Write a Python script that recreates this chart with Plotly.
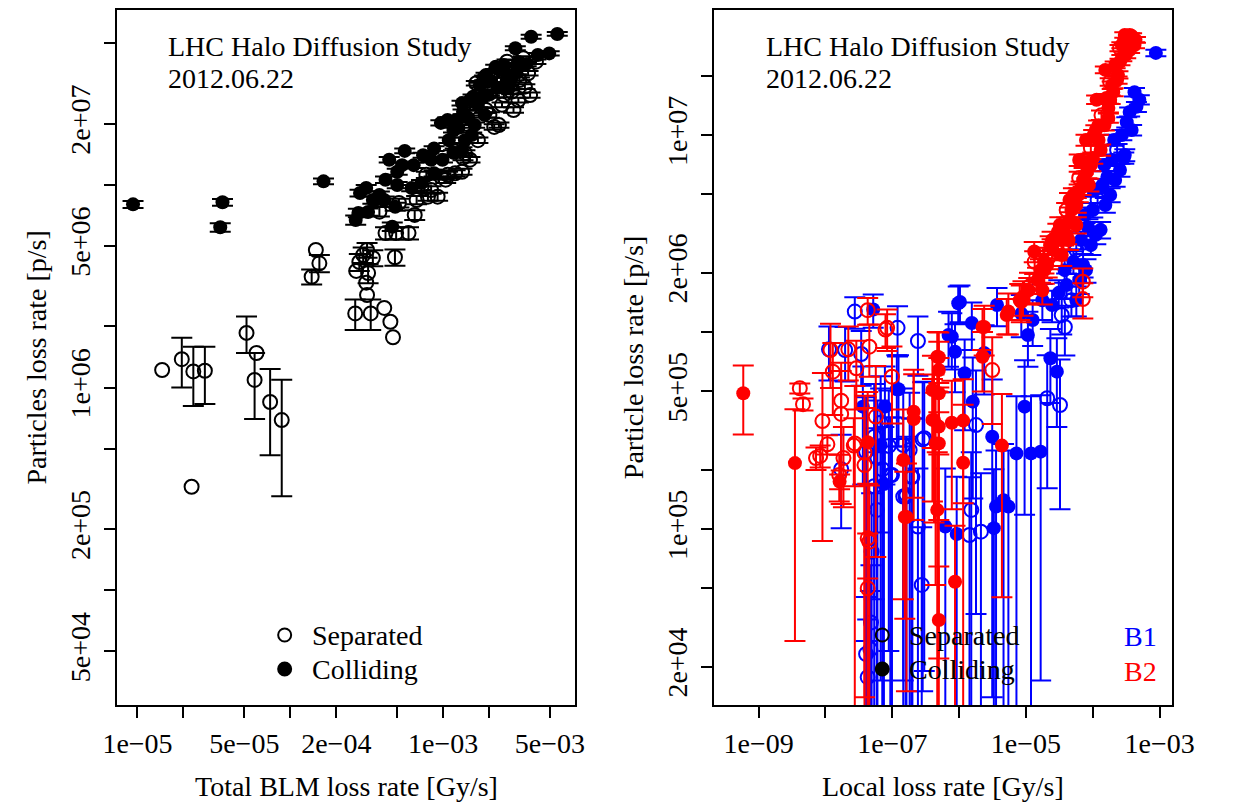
import plotly.graph_objects as go

W, H = 1239, 805

# ---------------- LEFT PANEL DATA (Total BLM loss rate vs particle loss rate) ----------------
sep_x = [1.45e-5, 1.95e-5, 2.32e-5, 2.76e-5, 2.26e-5, 5.17e-5, 6.01e-5, 5.84e-5, 7.38e-5, 8.79e-5,
         1.47e-4, 1.55e-4, 1.38e-4, 3.00e-4, 3.18e-4, 2.70e-4, 3.23e-4, 3.14e-4, 3.18e-4, 2.66e-4,
         3.36e-4, 4.12e-4, 4.52e-4, 4.70e-4, 4.84e-4, 4.20e-4, 4.93e-4, 5.94e-4, 3.83e-4, 5.14e-4,
         6.52e-4, 6.71e-4, 7.96e-4, 9.21e-4, 7.77e-4, 1.20e-3, 1.35e-3, 9.67e-4, 8.35e-4, 7.22e-4,
         1.04e-3, 3.47e-4, 2.83e-4,
         3.35e-3, 4.05e-3, 2.62e-3, 2.97e-3, 3.60e-3, 2.32e-3, 3.43e-3, 2.81e-3, 2.43e-3, 2.01e-3,
         1.65e-3, 2.32e-3, 2.16e-3, 1.91e-3, 1.39e-3, 1.20e-3, 1.33e-3, 1.07e-3, 3.11e-3, 1.50e-3,
         2.50e-3, 1.87e-3, 2.50e-3, 2.89e-3, 2.01e-3, 1.69e-3, 3.16e-3, 3.71e-3, 1.50e-3]
sep_y = [1.22e6, 1.38e6, 1.20e6, 1.21e6, 3.24e5, 1.86e6, 1.48e6, 1.09e6, 8.48e5, 6.91e5,
         4.77e6, 4.10e6, 3.52e6, 4.51e6, 4.77e6, 3.76e6, 3.67e6, 3.29e6, 2.86e6, 2.32e6,
         2.32e6, 2.47e6, 2.11e6, 1.77e6, 4.39e6, 5.78e6, 5.78e6, 5.78e6, 7.37e6, 8.13e6,
         7.10e6, 8.41e6, 8.74e6, 8.74e6, 1.12e7, 1.14e7, 1.36e7, 1.10e7, 9.43e6, 9.75e6,
         1.06e7, 4.36e6, 4.16e6,
         4.21e7, 4.05e7, 4.05e7, 3.77e7, 3.55e7, 3.48e7, 3.05e7, 2.88e7, 2.48e7, 2.83e7,
         3.17e7, 1.97e7, 1.93e7, 2.34e7, 1.43e7, 1.46e7, 1.16e7, 1.12e7, 2.62e7, 2.39e7,
         3.29e7, 3.37e7, 2.77e7, 2.34e7, 2.21e7, 1.66e7, 3.29e7, 2.77e7, 1.33e7]
sep_err = [0, 3.8e5, 3.9e5, 3.8e5, 0, 3.8e5, 0, 3.9e5, 3.85e5, 4.0e5,
           0, 4.0e5, 3.0e5, 4.0e5, 4.0e5, 0, 4.0e5, 0, 0, 4.0e5,
           4.0e5, 0, 0, 0, 4.0e5, 4.0e5, 4.0e5, 4.0e5, 4.0e5, 4.0e5,
           4.0e5, 4.0e5, 4.0e5, 4.0e5, 4.0e5, 4.0e5, 4.0e5, 4.0e5, 4.0e5, 4.0e5,
           4.0e5, 4.0e5, 4.0e5,
           1.0e6, 1.0e6, 1.0e6, 1.0e6, 9e5, 9e5, 8e5, 8e5, 7e5, 8e5,
           8e5, 6e5, 6e5, 7e5, 5e5, 5e5, 4e5, 4e5, 7e5, 7e5,
           9e5, 9e5, 7e5, 7e5, 7e5, 5e5, 9e5, 8e5, 4e5]

col_x = [9.35e-6, 3.60e-5, 3.48e-5, 1.65e-4, 5.61e-4, 7.40e-4, 8.73e-4, 9.91e-4, 4.44e-4, 5.01e-4,
         4.20e-4, 3.14e-4, 2.86e-4, 3.83e-4, 4.12e-4, 2.79e-4, 2.68e-4, 4.86e-4, 6.23e-4, 9.67e-4,
         1.07e-3, 1.33e-3, 1.57e-3, 1.74e-3, 1.91e-3, 2.21e-3, 2.97e-3, 3.77e-3, 5.59e-3, 4.95e-3,
         1.17e-3, 1.35e-3, 1.81e-3, 2.32e-3, 2.81e-3, 1.17e-3, 7.22e-4, 8.73e-4, 4.65e-4, 1.22e-3,
         1.50e-3, 2.01e-3, 2.50e-3, 3.11e-3, 1.61e-3, 1.09e-3, 1.39e-3, 5.01e-4, 3.47e-4, 3.23e-4,
         5.39e-4, 1.87e-3, 2.69e-3,
         1.26e-3, 1.46e-3, 1.69e-3, 1.95e-3, 2.26e-3, 2.61e-3, 3.02e-3, 3.50e-3, 4.17e-3, 1.33e-3,
         1.54e-3, 8.35e-4, 6.42e-4]
col_y = [8.01e6, 8.20e6, 6.17e6, 1.04e7, 1.47e7, 1.40e7, 1.51e7, 1.33e7, 1.33e7, 1.16e7,
         1.06e7, 9.64e6, 9.11e6, 8.91e6, 8.41e6, 7.26e6, 6.70e6, 7.80e6, 9.64e6, 2.02e7,
         2.09e7, 2.53e7, 2.72e7, 3.11e7, 3.48e7, 3.82e7, 4.72e7, 5.38e7, 5.55e7, 4.45e7,
         1.86e7, 2.29e7, 2.72e7, 3.69e7, 3.35e7, 1.44e7, 1.02e7, 1.14e7, 6.21e6, 2.09e7,
         2.62e7, 3.29e7, 3.90e7, 4.03e7, 1.97e7, 1.66e7, 1.66e7, 9.98e6, 8.41e6, 7.34e6,
         1.25e7, 2.21e7, 3.00e7,
         1.91e7, 2.14e7, 2.48e7, 2.77e7, 3.00e7, 3.29e7, 3.60e7, 3.94e7, 4.37e7, 1.48e7,
         1.76e7, 1.33e7, 1.25e7]
col_err = [3.2e5, 3.2e5, 3.0e5, 3.5e5, 4e5, 4e5, 4e5, 4e5, 4e5, 4e5,
           4e5, 3.5e5, 3.5e5, 3.5e5, 3.5e5, 3.5e5, 3.5e5, 3.5e5, 3.5e5, 6e5,
           6e5, 7e5, 7e5, 8e5, 9e5, 9e5, 1.1e6, 1.2e6, 1.2e6, 1.1e6,
           5e5, 6e5, 7e5, 9e5, 8e5, 4e5, 3.5e5, 4e5, 3e5, 6e5,
           7e5, 8e5, 9e5, 1e6, 6e5, 5e5, 5e5, 3.5e5, 3.5e5, 3e5,
           4e5, 6e5, 8e5,
           6e5, 6e5, 7e5, 8e5, 8e5, 9e5, 9e5, 1e6, 1e6, 5e5,
           5e5, 4e5, 4e5]

# ---------------- RIGHT PANEL DATA (Local loss rate vs particle loss rate) ----------------
b1_sep_x = [2.75e-8, 1.20e-7, 1.13e-8, 1.97e-8, 3.43e-8, 1.72e-8, 4.06e-8, 5.37e-8, 6.70e-8, 6.00e-8,
            7.09e-8, 9.35e-8, 8.87e-8, 5.37e-8, 5.86e-8, 4.91e-8, 4.80e-8, 4.06e-8, 4.70e-8, 4.29e-8,
            1.46e-7, 2.42e-7, 2.85e-7, 1.58e-7, 2.42e-7, 2.76e-7, 1.52e-6, 1.43e-6, 2.12e-6, 1.79e-6,
            2.08e-5, 3.23e-5, 3.82e-5, 1.82e-7, 1.46e-7, 1.93e-7, 9.90e-8, 2.00e-7, 3.01e-7, 1.63e-7,
            4.79e-5, 3.43e-5, 5.67e-5, 1.18e-4, 2.31e-4]
b1_sep_y = [1.27e6, 1.05e6, 8.17e5, 8.10e5, 7.73e5, 2.01e5, 2.47e5, 2.94e5, 3.46e5, 2.29e5,
            2.01e5, 1.88e5, 2.64e5, 1.65e5, 1.25e5, 7.67e4, 3.35e4, 2.32e4, 2.45e4, 1.77e4,
            1.46e5, 9.00e5, 2.85e5, 1.46e5, 1.03e5, 5.20e4, 1.25e5, 9.32e4, 9.69e4, 3.37e5,
            4.61e5, 4.26e5, 1.06e6, 2.52e5, 2.67e5, 1.84e5, 1.88e5, 1.84e5, 2.89e5, 1.49e5,
            1.45e6, 1.22e6, 2.61e6, 4.68e6, 8.39e6]
b1_sep_err = [2.3e5, 3.0e5, 2.5e5, 2.5e5, 2.4e5, 1.0e5, 2.2e5, 2.5e5, 2.5e5, 2.2e5,
              2.0e5, 1.8e5, 2.4e5, 1.6e5, 1.2e5, 7.5e4, 3.2e4, 2.2e4, 2.4e4, 1.7e4,
              1.4e5, 3.0e5, 2.7e5, 1.4e5, 1.0e5, 5.0e4, 1.2e5, 9.0e4, 9.5e4, 3.0e5,
              3.0e5, 3.0e5, 3.0e5, 2.4e5, 2.5e5, 1.8e5, 1.8e5, 1.8e5, 2.7e5, 1.45e5,
              2.5e5, 2.5e5, 3e5, 4e5, 6e5]

b1_col_x = [5.19e-8, 3.63e-8, 7.76e-8, 6.70e-8, 7.50e-8, 1.24e-7, 9.70e-7, 3.69e-6, 1.55e-6, 7.78e-7,
            8.52e-6, 2.32e-5, 2.90e-5, 9.54e-6, 3.13e-6, 7.21e-6, 1.19e-5, 1.66e-5, 3.57e-6, 4.62e-6,
            5.46e-6, 3.31e-6, 9.20e-7, 6.22e-7, 8.69e-7, 1.21e-6, 1.60e-6, 2.37e-6, 6.95e-7, 1.03e-6,
            1.17e-7, 1.26e-5, 1.76e-5, 1.07e-5,
            3.10e-5, 4.06e-5, 3.79e-5, 5.13e-5, 6.69e-5, 8.46e-5, 7.65e-5, 1.00e-4, 1.07e-4, 1.40e-4,
            1.65e-4, 1.49e-4, 1.95e-4, 2.09e-4, 2.72e-4, 3.22e-4, 3.56e-4, 4.50e-4, 4.21e-4, 8.78e-4,
            2.46e-5, 6.26e-5, 9.35e-5, 1.31e-4, 1.82e-4, 2.55e-4, 3.01e-4, 4.97e-4,
            7.16e-5, 1.11e-4, 1.54e-4, 2.16e-4, 2.91e-4, 3.81e-4, 7.91e-5, 5.67e-5]
b1_col_y = [1.30e6, 4.18e5, 4.18e5, 2.67e5, 1.69e5, 5.12e5, 1.40e6, 1.37e6, 1.11e6, 9.46e5,
            1.24e6, 7.36e5, 6.29e5, 4.18e5, 2.94e5, 2.42e5, 2.42e5, 2.47e5, 1.30e5, 1.40e5,
            1.30e5, 1.01e5, 9.43e4, 1.03e5, 7.94e5, 6.17e5, 4.43e5, 7.82e5, 9.66e5, 1.42e6,
            5.12e5, 1.15e6, 1.45e6, 9.66e5,
            1.58e6, 1.73e6, 2.06e6, 2.27e6, 2.93e6, 3.41e6, 3.93e6, 4.16e6, 5.26e6, 5.58e6,
            6.12e6, 7.04e6, 7.47e6, 9.43e6, 1.00e7, 1.16e7, 1.31e7, 1.39e7, 1.65e7, 2.61e7,
            1.37e6, 1.84e6, 2.76e6, 3.30e6, 4.96e6, 6.64e6, 7.91e6, 1.51e7,
            2.19e6, 3.11e6, 4.41e6, 5.91e6, 7.64e6, 1.06e7, 2.06e6, 1.45e6]
b1_col_err = [2.5e5, 2.5e5, 2.5e5, 2.5e5, 1.6e5, 2.5e5, 3.0e5, 3.0e5, 3.0e5, 3.0e5,
              3.0e5, 3.0e5, 3.0e5, 3.0e5, 2.8e5, 2.3e5, 2.3e5, 2.3e5, 1.2e5, 1.3e5,
              1.2e5, 1.0e5, 9.0e4, 1.0e5, 3.0e5, 3.0e5, 3.0e5, 3.0e5, 3.0e5, 3.0e5,
              2.5e5, 3.0e5, 3.0e5, 3.0e5,
              2.5e5, 2.5e5, 2.8e5, 3e5, 3e5, 3.2e5, 3.5e5, 3.5e5, 4e5, 4e5,
              4.5e5, 5e5, 5e5, 6e5, 6e5, 7e5, 7e5, 8e5, 8e5, 1.0e6,
              2.5e5, 2.8e5, 3e5, 3.2e5, 4e5, 5e5, 5.5e5, 8e5,
              3e5, 3.2e5, 3.8e5, 4.5e5, 5e5, 6.5e5, 2.8e5, 2.5e5]

b2_sep_x = [4.14e-9, 4.62e-9, 9.02e-9, 1.07e-8, 7.23e-9, 8.35e-9, 1.19e-8, 2.20e-8, 1.29e-8, 1.72e-8,
            1.72e-8, 1.86e-8, 2.66e-8, 1.61e-8, 2.90e-8, 4.29e-8, 7.92e-8, 4.54e-8, 3.84e-8, 3.84e-8,
            4.29e-8, 4.54e-8, 4.29e-8, 5.67e-8, 9.90e-8, 2.75e-8, 3.13e-6, 1.13e-5, 7.09e-5, 7.09e-5,
            8.38e-8,
            1.35e-5, 2.15e-5, 2.90e-5, 4.06e-5, 6.26e-5, 9.35e-5, 1.35e-4, 1.82e-4, 2.55e-4, 3.56e-4]
b2_sep_y = [5.18e5, 4.30e5, 3.53e5, 2.69e5, 2.29e5, 2.35e5, 8.10e5, 8.17e5, 6.29e5, 4.48e5,
            3.84e5, 2.29e5, 2.65e5, 1.88e5, 6.54e5, 1.29e6, 1.03e6, 8.42e5, 2.11e5, 2.44e5,
            8.97e4, 8.62e4, 5.00e4, 3.72e5, 5.93e5, 2.72e5, 6.41e5, 1.70e6, 1.80e6, 1.47e6,
            1.05e6,
            2.27e6, 2.38e6, 2.61e6, 4.16e6, 6.05e6, 8.59e6, 1.26e7, 1.86e7, 2.76e7, 3.18e7]
b2_sep_err = [3e4, 3e4, 2.66e5, 3e4, 3e4, 3e4, 2.9e5, 2.5e5, 2.5e5, 2.5e5,
              2.5e5, 1e5, 1e5, 5e4, 2.5e5, 2e5, 2e5, 2.5e5, 2.0e5, 2.3e5,
              8e4, 8e4, 4.5e4, 3.0e5, 2.5e5, 2.6e5, 3e5, 3e5, 3e5, 3e5,
              2.5e5,
              3e5, 3e5, 3e5, 3.5e5, 4.5e5, 5.5e5, 7e5, 8e5, 1.0e6, 1.0e6]

b2_col_x = [5.90e-10, 3.50e-9, 1.63e-8, 4.29e-8, 1.46e-7, 1.54e-7, 4.97e-7, 2.24e-6, 5.16e-6, 2.09e-7,
            2.09e-7, 3.99e-7, 4.97e-7, 7.78e-7, 1.15e-6, 4.45e-7, 1.15e-6, 4.37e-6, 4.71e-7, 1.63e-7,
            8.69e-7, 4.97e-7, 3.99e-7, 4.97e-7, 2.24e-6, 8.07e-6, 5.46e-6, 4.71e-7, 4.97e-7, 4.21e-7,
            2.37e-6, 8.52e-6, 1.33e-5, 1.86e-5, 2.46e-5, 3.43e-5, 9.02e-6, 4.97e-7,
            1.10e-5, 1.49e-5, 1.88e-5, 2.46e-5, 3.67e-5, 3.21e-5, 4.48e-5, 5.67e-5, 5.13e-5, 6.69e-5,
            8.18e-5, 7.40e-5, 1.00e-4, 1.22e-4, 1.11e-4, 1.49e-4, 1.71e-4, 1.60e-4, 2.02e-4, 2.38e-4,
            2.16e-4, 2.72e-4, 3.33e-4, 3.01e-4, 4.35e-4, 1.31e-4, 8.75e-5, 5.67e-5, 3.43e-5, 1.76e-5,
            7.91e-5, 1.14e-4, 1.54e-4, 3.11e-4, 3.56e-4, 3.81e-4, 4.48e-5, 1.03e-4, 1.82e-4, 2.31e-4,
            6.26e-5, 4.06e-5, 2.08e-5, 2.72e-4, 1.71e-4,
            1.65e-5, 2.30e-5, 3.00e-5, 4.79e-5, 6.06e-5, 9.35e-5, 1.22e-4, 1.95e-4, 2.55e-4, 4.21e-4,
            4.34e-5, 7.16e-5]
b2_col_y = [4.89e5, 2.16e5, 1.74e5, 2.76e5, 2.24e5, 1.15e5, 7.44e5, 1.06e6, 1.22e6, 3.94e5,
            3.61e5, 3.58e5, 3.31e5, 3.46e5, 3.55e5, 2.72e5, 2.17e5, 2.65e5, 1.25e5, 1.15e5,
            5.40e4, 3.45e4, 5.08e5, 6.41e5, 7.49e5, 1.45e6, 1.27e6, 7.49e5, 4.89e5, 3.58e5,
            1.06e6, 1.42e6, 2.56e6, 2.28e6, 2.66e6, 2.93e6, 1.51e6, 2.72e5,
            1.63e6, 1.84e6, 2.06e6, 2.93e6, 3.07e6, 3.49e6, 3.70e6, 4.41e6, 4.96e6, 5.38e6,
            6.49e6, 7.29e6, 7.64e6, 9.43e6, 1.06e7, 1.12e7, 1.37e7, 1.54e7, 1.65e7, 2.02e7,
            2.27e7, 2.46e7, 2.97e7, 3.22e7, 3.04e7, 8.39e6, 5.58e6, 3.49e6, 2.46e6, 1.63e6,
            9.43e6, 1.51e7, 2.14e7, 2.55e7, 2.70e7, 3.18e7, 4.68e6, 1.00e7, 1.51e7, 1.90e7,
            7.47e6, 3.11e6, 2.19e6, 2.86e7, 1.22e7,
            2.06e6, 2.76e6, 3.22e6, 4.16e6, 4.96e6, 7.04e6, 1.12e7, 1.79e7, 2.35e7, 2.86e7,
            2.93e6, 5.91e6]
b2_col_err = [1.87e5, 1.89e5, 1.5e4, 2.2e5, 1.8e5, 8e4, 2.5e5, 2.5e5, 2.5e5, 2.5e5,
              2.5e5, 2.2e5, 2.2e5, 2.2e5, 2.2e5, 2.2e5, 2.1e5, 2.2e5, 1.2e5, 1.0e5,
              5e4, 3e4, 2.5e5, 2.5e5, 2.5e5, 3e5, 3e5, 2.5e5, 2.5e5, 2.5e5,
              3e5, 3e5, 3e5, 3e5, 3e5, 3e5, 3e5, 2.5e5,
              2.5e5, 2.8e5, 3e5, 3e5, 3.2e5, 3.3e5, 3.5e5, 3.8e5, 4e5, 4.2e5,
              4.6e5, 5e5, 5e5, 6e5, 6e5, 6.5e5, 7e5, 7.5e5, 7.5e5, 8.5e5,
              9e5, 9e5, 1.0e6, 1.0e6, 1.0e6, 5.5e5, 4.2e5, 3.3e5, 3e5, 2.5e5,
              6e5, 7.5e5, 8.5e5, 9.5e5, 9.5e5, 1.0e6, 4e5, 6e5, 7.5e5, 8e5,
              5e5, 3.2e5, 3e5, 1.0e6, 6.5e5,
              2.8e5, 3e5, 3.2e5, 3.5e5, 4e5, 5e5, 6.5e5, 8e5, 9e5, 1.0e6,
              3.2e5, 4.5e5]

# ---------------- axes ticks ----------------
l_xtick_vals = [1e-5, 2e-5, 5e-5, 1e-4, 2e-4, 5e-4, 1e-3, 2e-3, 5e-3]
l_xtick_text = ["1e\u221205", "", "5e\u221205", "", "2e\u221204", "", "1e\u221203", "", "5e\u221203"]
l_ytick_vals = [5e4, 1e5, 2e5, 5e5, 1e6, 2e6, 5e6, 1e7, 2e7, 5e7]
l_ytick_text = ["5e+04", "", "2e+05", "", "1e+06", "", "5e+06", "", "2e+07", ""]
r_xtick_vals = [1e-9, 1e-8, 1e-7, 1e-6, 1e-5, 1e-4, 1e-3]
r_xtick_text = ["1e\u221209", "", "1e\u221207", "", "1e\u221205", "", "1e\u221203"]
r_ytick_vals = [2e4, 5e4, 1e5, 2e5, 5e5, 1e6, 2e6, 5e6, 1e7, 2e7]
r_ytick_text = ["2e+04", "", "1e+05", "", "5e+05", "", "2e+06", "", "1e+07", ""]

FONT = "Liberation Serif, Times New Roman, serif"
FS = 28

fig = go.Figure()


def add_series(x, y, err, xa, ya, color, filled):
    sym = "circle" if filled else "circle-open"
    marker = dict(symbol=sym, size=14, color=color,
                  line=dict(width=0 if filled else 2, color=color))
    xe = [a for a, e in zip(x, err) if e > 0]
    ye = [b for b, e in zip(y, err) if e > 0]
    ee = [e for e in err if e > 0]
    xn = [a for a, e in zip(x, err) if e <= 0]
    yn = [b for b, e in zip(y, err) if e <= 0]
    if xe:
        fig.add_trace(go.Scatter(x=xe, y=ye, mode="markers", marker=marker, xaxis=xa, yaxis=ya,
                                 showlegend=False, hoverinfo="x+y",
                                 error_y=dict(type="data", array=ee, symmetric=True, color=color,
                                              thickness=2, width=10.5)))
    if xn:
        fig.add_trace(go.Scatter(x=xn, y=yn, mode="markers", marker=marker, xaxis=xa, yaxis=ya,
                                 showlegend=False, hoverinfo="x+y"))


add_series(sep_x, sep_y, sep_err, "x", "y", "black", False)
add_series(col_x, col_y, col_err, "x", "y", "black", True)
add_series(b1_sep_x, b1_sep_y, b1_sep_err, "x2", "y2", "#0000FF", False)
add_series(b1_col_x, b1_col_y, b1_col_err, "x2", "y2", "#0000FF", True)
add_series(b2_sep_x, b2_sep_y, b2_sep_err, "x2", "y2", "#FF0000", False)
add_series(b2_col_x, b2_col_y, b2_col_err, "x2", "y2", "#FF0000", True)

# panel boxes in pixels
LB = (106, 578.5)
RB = (722, 1193.5)
TOP, BOT = 10, 705
ydom = [1 - BOT / H, 1 - TOP / H]

axis_common = dict(type="log", showgrid=False, zeroline=False, showline=True, mirror=True,
                   linecolor="black", linewidth=2, ticks="outside", ticklen=11, tickwidth=2,
                   tickcolor="black", tickfont=dict(family=FONT, size=FS, color="black"),
                   tickmode="array", fixedrange=True)

fig.update_layout(
    width=W, height=H, margin=dict(l=0, r=0, t=0, b=0),
    paper_bgcolor="white", plot_bgcolor="white", showlegend=False,
    xaxis=dict(axis_common, domain=[LB[0] / W, LB[1] / W], range=[-5.1352, -2.1352],
               tickvals=l_xtick_vals, ticktext=l_xtick_text, anchor="y", ticklabelstandoff=1),
    yaxis=dict(axis_common, domain=ydom, range=[4.4337, 7.8624],
               tickvals=l_ytick_vals, ticktext=l_ytick_text, anchor="x", tickangle=-90,
               ticklabelstandoff=3),
    xaxis2=dict(axis_common, domain=[RB[0] / W, RB[1] / W], range=[-9.6604, -2.8171],
                tickvals=r_xtick_vals, ticktext=r_xtick_text, anchor="y2", ticklabelstandoff=1),
    yaxis2=dict(axis_common, domain=ydom, range=[4.1066, 7.6345],
                tickvals=r_ytick_vals, ticktext=r_ytick_text, anchor="x2", tickangle=-90,
                ticklabelstandoff=3),
)


def ann(text, xp, yp, xanchor="center", color="black", angle=0):
    fig.add_annotation(text=text, x=xp / W, y=1 - yp / H, xref="paper", yref="paper",
                       xanchor=xanchor, yanchor="middle", showarrow=False, textangle=angle,
                       font=dict(family=FONT, size=FS, color=color))


# axis titles
ann("Total BLM loss rate [Gy/s]", (LB[0] + LB[1]) / 2, 786)
ann("Local loss rate [Gy/s]", (RB[0] + RB[1]) / 2, 786)
ann("Particles loss rate [p/s]", 22.7, (TOP + BOT) / 2, angle=-90)
ann("Particle loss rate [p/s]", 638.7, (TOP + BOT) / 2, angle=-90)

# in-plot titles and legends
for x0 in (LB[0], RB[0]):
    ann("LHC Halo Diffusion Study", x0 + 51, 46, xanchor="left")
    ann("2012.06.22", x0 + 51, 79, xanchor="left")
    ann("Separated", x0 + 198.7, 635, xanchor="left")
    ann("Colliding", x0 + 198.7, 669, xanchor="left")
    for yy, filled in ((635, False), (669, True)):
        fig.add_shape(type="circle", xref="paper", yref="paper", xsizemode="pixel", ysizemode="pixel",
                      xanchor=(x0 + 173) / W, yanchor=1 - yy / H, x0=-6.5, x1=6.5, y0=-6.5, y1=6.5,
                      line=dict(color="black", width=2),
                      fillcolor="black" if filled else "rgba(0,0,0,0)")

ann("B1", 1180, 636, xanchor="right", color="#0000FF")
ann("B2", 1180, 671, xanchor="right", color="#FF0000")

fig.write_html("out.html")
